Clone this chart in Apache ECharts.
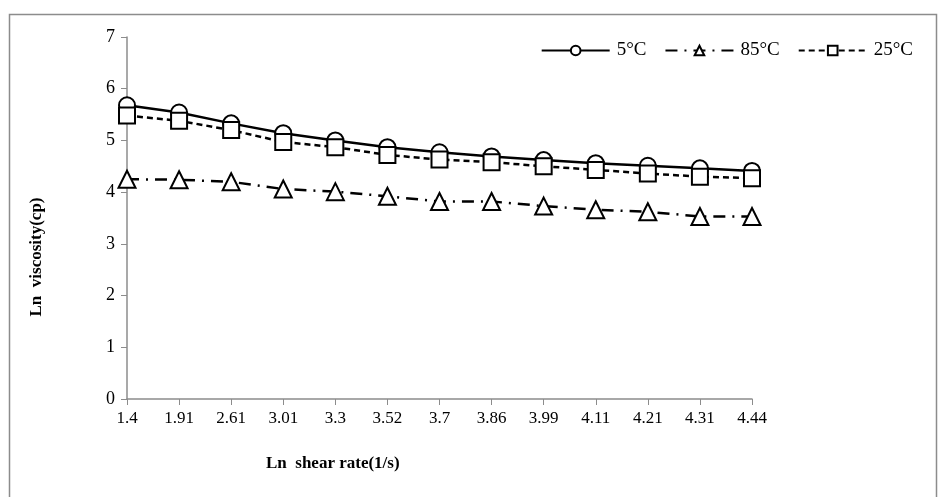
<!DOCTYPE html>
<html>
<head>
<meta charset="utf-8">
<script src="https://cdn.jsdelivr.net/npm/echarts@6/dist/echarts.min.js"></script>
<style>
    html, body { margin: 0; padding: 0; background: #fff; }
    #main { width: 938px; height: 497px; }
</style>
</head>
<body>
<div id="main"></div>
<script>
// x axis categories (ln shear rate)
var shearRate = ['1.4', '1.91', '2.61', '3.01', '3.3', '3.52', '3.7', '3.86', '3.99', '4.11', '4.21', '4.31', '4.44'];
// ln viscosity per temperature
var visc5 = [5.68, 5.54, 5.33, 5.14, 5.00, 4.87, 4.77, 4.69, 4.62, 4.56, 4.51, 4.46, 4.41];
var visc85 = [4.25, 4.24, 4.20, 4.06, 4.01, 3.92, 3.82, 3.82, 3.73, 3.66, 3.62, 3.53, 3.53];
var visc25 = [5.48, 5.38, 5.20, 4.97, 4.87, 4.72, 4.63, 4.58, 4.50, 4.43, 4.36, 4.30, 4.27];
var yTicks = [0, 7, 1];

(function () {
    var myChart = echarts.init(document.getElementById('main'));
    var font = '"Liberation Serif", "Times New Roman", serif';
    var gray = '#8c8c8c';

    function mk(name, data, symbol, dash) {
        return {
            name: name,
            type: 'line',
            data: data,
            symbol: symbol,
            symbolSize: symbol === 'triangle' ? 17 : 16,
            showSymbol: true,
            itemStyle: { color: '#fff', borderColor: '#000', borderWidth: 2 },
            lineStyle: { color: '#000', width: 2.5, type: dash },
            emphasis: { disabled: true },
            animation: false
        };
    }

    var option = {
        backgroundColor: '#fff',
        textStyle: { fontFamily: font },
        grid: { left: 127, right: 186, top: 37, bottom: 98, containLabel: false },
        legend: {
            top: 36,
            right: 20,
            itemWidth: 68,
            itemHeight: 12,
            itemGap: 18,
            textStyle: { fontFamily: font, fontSize: 19, color: '#000', padding: [0, 0, 0, 2] },
            data: ['5°C', '85°C', '25°C']
        },
        xAxis: {
            type: 'category',
            data: shearRate,
            boundaryGap: false,
            axisLine: { lineStyle: { color: gray, width: 1.5 } },
            axisTick: { show: true, length: 6, lineStyle: { color: gray } },
            axisLabel: { color: '#000', fontSize: 17, fontFamily: font, margin: 11 },
            splitLine: { show: false }
        },
        yAxis: {
            type: 'value',
            min: yTicks[0],
            max: yTicks[1],
            interval: yTicks[2],
            axisLine: { show: true, lineStyle: { color: gray, width: 1.5 } },
            axisTick: { show: true, length: 6, lineStyle: { color: gray } },
            axisLabel: { color: '#000', fontSize: 18, fontFamily: font, margin: 12 },
            splitLine: { show: false }
        },
        graphic: [
            {
                type: 'rect',
                shape: { x: 9.5, y: 14.5, width: 927, height: 490 },
                style: { fill: 'none', stroke: gray, lineWidth: 1.5 },
                silent: true
            },
            {
                type: 'text',
                left: 266,
                top: 455,
                style: { text: 'Ln  shear rate(1/s)', font: 'bold 17px ' + font, fill: '#000' }
            },
            {
                type: 'text',
                x: 37,
                y: 257,
                rotation: Math.PI / 2,
                style: {
                    text: 'Ln  viscosity(cp)',
                    font: 'bold 17px ' + font,
                    fill: '#000',
                    align: 'center',
                    verticalAlign: 'middle'
                }
            }
        ],
        series: [
            mk('5°C', visc5, 'circle', 'solid'),
            mk('85°C', visc85, 'triangle', [12, 7, 2, 7]),
            mk('25°C', visc25, 'rect', [6, 4])
        ]
    };
    myChart.setOption(option);
    window.addEventListener('resize', function () {
        myChart.resize();
    });
})();
</script>
</body>
</html>
